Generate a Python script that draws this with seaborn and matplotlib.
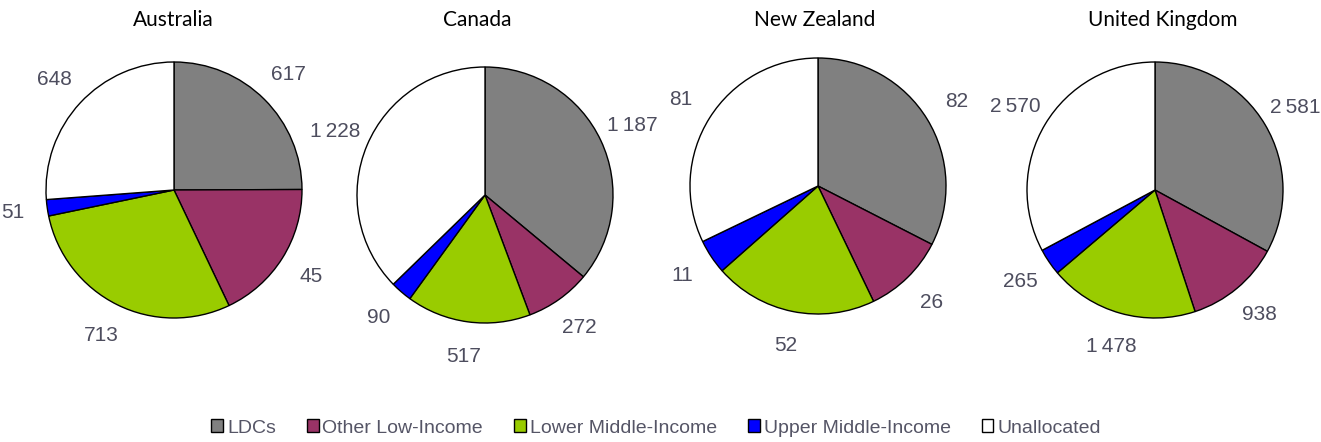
import matplotlib
matplotlib.use("Agg")
import matplotlib.pyplot as plt
import seaborn as sns
from matplotlib.patches import Patch

# -------------------------
# Data
# -------------------------
categories = ["LDCs", "Other Low-Income", "Lower Middle-Income",
              "Upper Middle-Income", "Unallocated"]
countries = ["Australia", "Canada", "New Zealand", "United Kingdom"]

australia = [617, 445, 713, 51, 648]
canada = [1187, 272, 517, 90, 1228]
new_zealand = [82, 26, 52, 11, 81]
united_kingdom = [2581, 938, 1478, 265, 2570]

# labels as printed on the chart
australia_labels = ["617", "45", "713", "51", "648"]
canada_labels = ["1\u2009187", "272", "517", "90", "1\u2009228"]
new_zealand_labels = ["82", "26", "52", "11", "81"]
united_kingdom_labels = ["2\u2009581", "938", "1\u2009478", "265", "2\u2009570"]

colors = ["#808080", "#993366", "#99cc00", "#0000ff", "#ffffff"]

series = [australia, canada, new_zealand, united_kingdom]
labels = [australia_labels, canada_labels, new_zealand_labels, united_kingdom_labels]

# -------------------------
# Plot
# -------------------------
sns.set_theme(style="white")
plt.rcParams['font.family'] = ['Liberation Sans', 'DejaVu Sans']

W, H = 1321, 442
fig = plt.figure(figsize=(W / 100, H / 100), dpi=100)

centers = [(174, 190), (485, 195), (818, 186), (1155, 190)]
title_x = [173, 477, 815, 1163]
box = 320

for i, (vals, labs) in enumerate(zip(series, labels)):
    cx, cy = centers[i]
    ax = fig.add_axes([(cx - box / 2) / W, (H - cy - box / 2) / H, box / W, box / H])
    wedges, texts = ax.pie(
        vals, labels=labs, colors=colors, startangle=90, counterclock=False,
        labeldistance=1.27,
        wedgeprops=dict(edgecolor="black", linewidth=1.0),
        textprops=dict(fontsize=15, color="#4d4d5e"),
    )
    for t in texts:
        t.set_ha("center")
        t.set_va("center")
    ax.set_xlim(-1.25, 1.25)
    ax.set_ylim(-1.25, 1.25)
    ax.set_aspect("equal")
    ax.axis("off")
    fig.text(title_x[i] / W, 1 - 20 / H, countries[i], ha="center", va="center",
             fontsize=15, color="black", family=["Lato", "DejaVu Sans"])

handles = [Patch(facecolor=c, edgecolor="black", linewidth=1.0) for c in colors]
fig.legend(handles, categories, loc="center", bbox_to_anchor=(656 / W, 1 - 428 / H),
           ncol=5, frameon=False, fontsize=14, handlelength=0.6, handleheight=0.6,
           handletextpad=0.2, columnspacing=1.6, labelcolor="#555566")

fig.savefig("out.png", dpi=100)
